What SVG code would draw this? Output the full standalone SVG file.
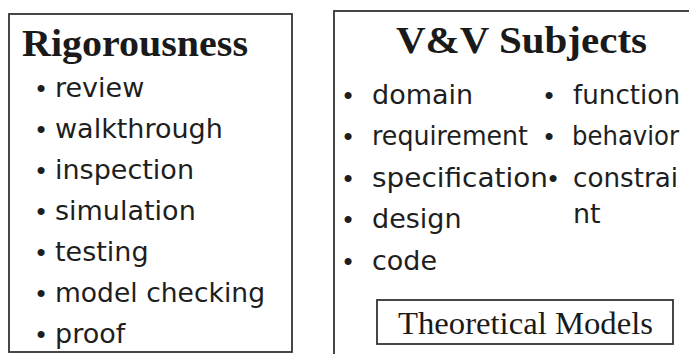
<svg xmlns="http://www.w3.org/2000/svg" width="689" height="354" viewBox="0 0 689 354">
<style>
.box{fill:none;stroke:#333;stroke-width:1.8}
.title{font-family:"Liberation Serif",serif;font-weight:bold;font-size:37px;fill:#1a1a1a}
.item{font-family:"DejaVu Sans",sans-serif;font-size:27px;fill:#1e1e1e}
.blt{font-family:"Liberation Sans",sans-serif;font-size:26px;fill:#1e1e1e;text-anchor:middle}
.tm{font-family:"Liberation Serif",serif;font-size:32px;fill:#1a1a1a}
</style>
<rect width="689" height="354" fill="#fff"/>
<g id="rigorousness">
<rect class="box" x="9" y="14" width="283" height="338"/>
<text class="title" x="22" y="56" textLength="226" lengthAdjust="spacingAndGlyphs">Rigorousness</text>
<text class="blt" x="41" y="97">•</text><text class="item" x="55" y="97">review</text>
<text class="blt" x="41" y="138">•</text><text class="item" x="55" y="138">walkthrough</text>
<text class="blt" x="41" y="179">•</text><text class="item" x="55" y="179">inspection</text>
<text class="blt" x="41" y="220">•</text><text class="item" x="55" y="220">simulation</text>
<text class="blt" x="41" y="261">•</text><text class="item" x="55" y="261">testing</text>
<text class="blt" x="41" y="302">•</text><text class="item" x="55" y="302" textLength="210" lengthAdjust="spacingAndGlyphs">model checking</text>
<text class="blt" x="41" y="343">•</text><text class="item" x="55" y="343">proof</text>
</g>
<g id="vv-subjects">
<rect class="box" x="334" y="11" width="380" height="360"/>
<text class="title" x="396" y="53" textLength="251" lengthAdjust="spacingAndGlyphs">V&amp;V Subjects</text>
<text class="blt" x="348" y="104">•</text><text class="item" x="372" y="104">domain</text>
<text class="blt" x="348" y="145">•</text><text class="item" x="372" y="145" textLength="156" lengthAdjust="spacingAndGlyphs">requirement</text>
<text class="blt" x="348" y="187">•</text><text class="item" x="372" y="187" textLength="176" lengthAdjust="spacingAndGlyphs">specification</text>
<text class="blt" x="348" y="228">•</text><text class="item" x="372" y="228">design</text>
<text class="blt" x="348" y="270">•</text><text class="item" x="372" y="270">code</text>
<text class="blt" x="549" y="104">•</text><text class="item" x="573" y="104" textLength="107" lengthAdjust="spacingAndGlyphs">function</text>
<text class="blt" x="549" y="145">•</text><text class="item" x="572" y="145" textLength="107" lengthAdjust="spacingAndGlyphs">behavior</text>
<text class="blt" x="553" y="187">•</text><text class="item" x="573" y="187" textLength="105" lengthAdjust="spacingAndGlyphs">constrai</text>
<text class="item" x="573" y="223">nt</text>
</g>
<g id="theoretical-models">
<rect class="box" x="377" y="300" width="296" height="44"/>
<text class="tm" x="398" y="334" textLength="255" lengthAdjust="spacingAndGlyphs">Theoretical Models</text>
</g>
<g id="connectors"/>
</svg>
